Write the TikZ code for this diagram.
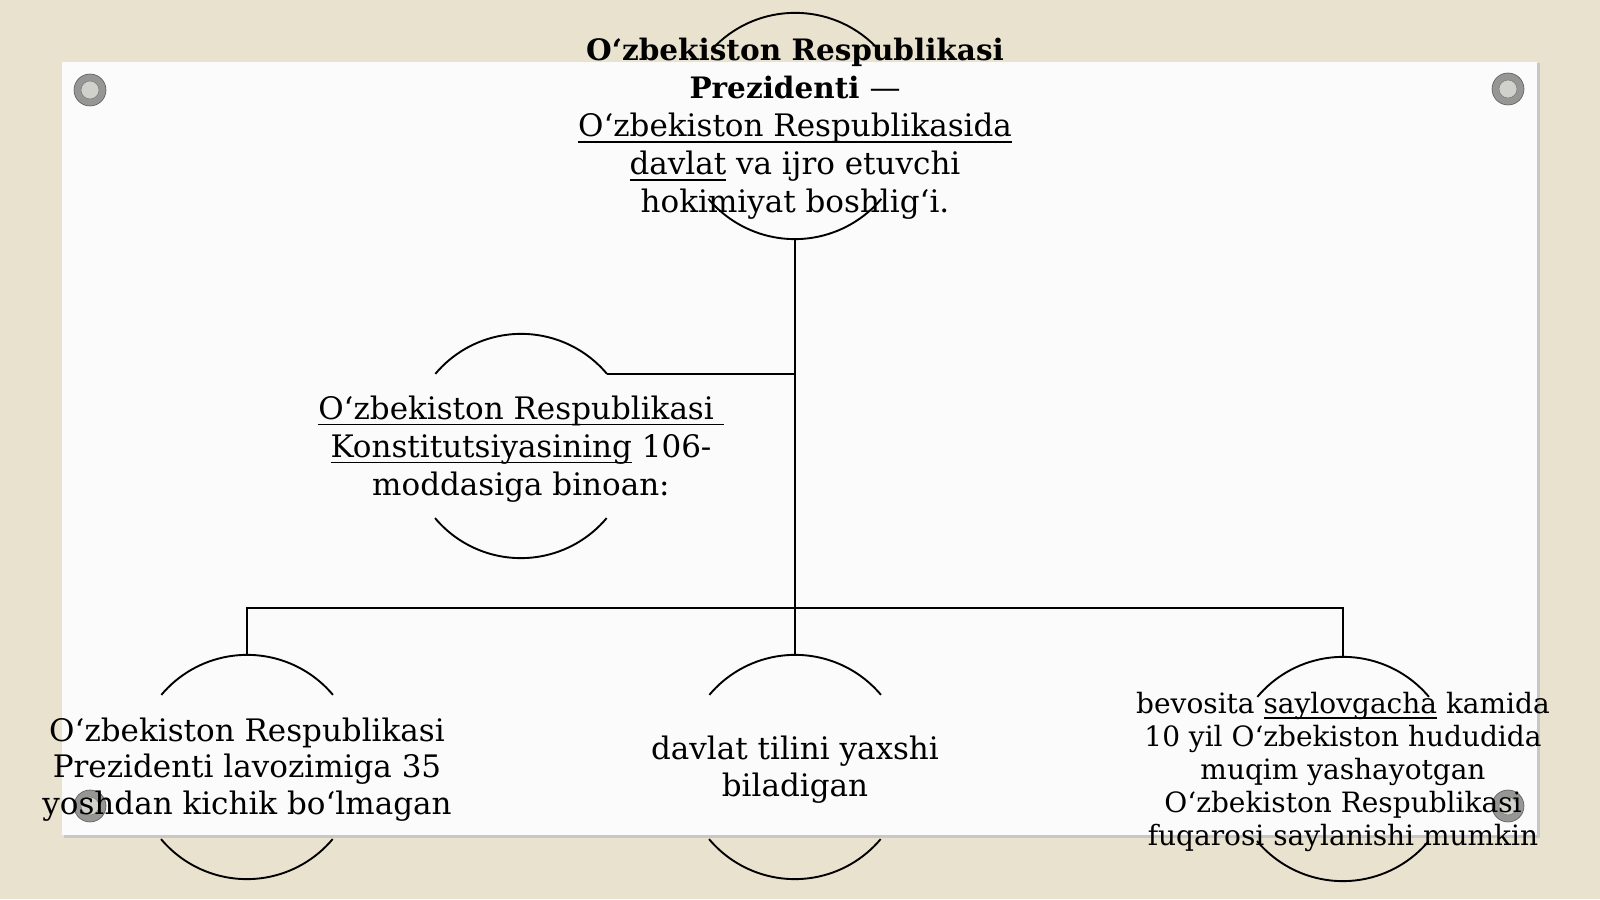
\documentclass[tikz,border=0pt]{standalone}
\usepackage{fontspec}
\setmainfont{DejaVu Serif}
\newsavebox\ulbox
\newcommand\ulx[1]{\sbox\ulbox{#1}\rlap{\rule[-6pt]{\wd\ulbox}{1.7pt}}\usebox\ulbox}
\newcommand\boldline[1]{{\fontsize{29.5}{38}\selectfont\bfseries #1}}
\definecolor{canvasbg}{RGB}{233,226,207}
\definecolor{paperc}{RGB}{251,251,252}
\definecolor{pinring}{RGB}{150,150,148}
\definecolor{pinin}{RGB}{208,209,202}
\tikzset{
  arcnode/.style={circle, draw=none, minimum size=224pt, inner sep=0pt, align=center},
  txt/.style={font=\fontsize{31}{38}\selectfont, align=center, yshift=-3pt},
  txtb/.style={font=\fontsize{31}{36.5}\selectfont, align=center, yshift=-2.5pt},
  txtsmall/.style={font=\fontsize{28}{33}\selectfont, align=center, yshift=-2.5pt},
  conn/.style={draw=black, line width=1.9pt},
  arcline/.style={draw=black, line width=1.9pt},
  pin/.style={circle, fill=pinring, draw=pinring!60!black, line width=0.6pt, minimum size=32pt, inner sep=0pt},
  pinhole/.style={circle, fill=pinin, draw=pinring!80!black, line width=0.5pt, minimum size=18pt, inner sep=0pt}
}
\begin{document}
\begin{tikzpicture}[x=1pt,y=1pt]
\useasboundingbox (0,0) rectangle (1600,899);
\fill[canvasbg] (0,0) rectangle (1600,899);
% paper with shadow
\fill[black!22] (64,61) rectangle (1540,836);
\fill[paperc] (62,64) rectangle (1537,837);
% pins
\foreach \px/\py/\nm in {90/809/pa,1508/810/pb,90/93/pc,1508/93/pd}{
  \node[pin] (\nm) at (\px,\py) {};
  \node[pinhole] at (\nm.center) {};
}
% nodes
\node[arcnode, minimum size=226pt] (top) at (795,773) {};
\node[txt] (toptext) at (top.center) {\boldline{O‘zbekiston Respublikasi}\\\boldline{Prezidenti} —\\\ulx{O‘zbekiston Respublikasida}\\\ulx{davlat} va ijro etuvchi\\hokimiyat boshlig‘i.};
\node[arcnode] (mid) at (521,453) {};
\node[txt] (midtext) at (mid.center) {\ulx{O‘zbekiston Respublikasi\ }\\\ulx{Konstitutsiyasining} 106-\\moddasiga binoan:};
\node[arcnode] (b1) at (247,132) {};
\node[txtb] (b1text) at (b1.center) {O‘zbekiston Respublikasi\\Prezidenti lavozimiga 35\\yoshdan kichik bo‘lmagan};
\node[arcnode] (b2) at (795,132) {};
\node[txtb] (b2text) at (b2.center) {davlat tilini yaxshi\\biladigan};
\node[arcnode] (b3) at (1343,130) {};
\node[txtsmall] (b3text) at (b3.center) {bevosita \ulx{saylovgacha} kamida\\10 yil O‘zbekiston hududida\\muqim yashayotgan\\O‘zbekiston Respublikasi\\fuqarosi saylanishi mumkin};
% arcs
\draw[arcline] (top.45) arc[start angle=45, end angle=135, radius=113pt];
\draw[arcline] (top.220) arc[start angle=220, end angle=320, radius=113pt];
\foreach \n in {mid,b1,b2,b3}{
  \draw[arcline] (\n.40) arc[start angle=40, end angle=140, radius=112pt];
  \draw[arcline] (\n.220) arc[start angle=220, end angle=320, radius=112pt];
}
% connectors
\coordinate (bus) at (795,291);
\draw[conn] (top.south) -- (b2.north);
\draw[conn] (mid.40) -- (mid.40 -| top.south);
\draw[conn] (b1.north) -- (b1.north |- bus) -- (b3.north |- bus) -- (b3.north);
\end{tikzpicture}
\end{document}
